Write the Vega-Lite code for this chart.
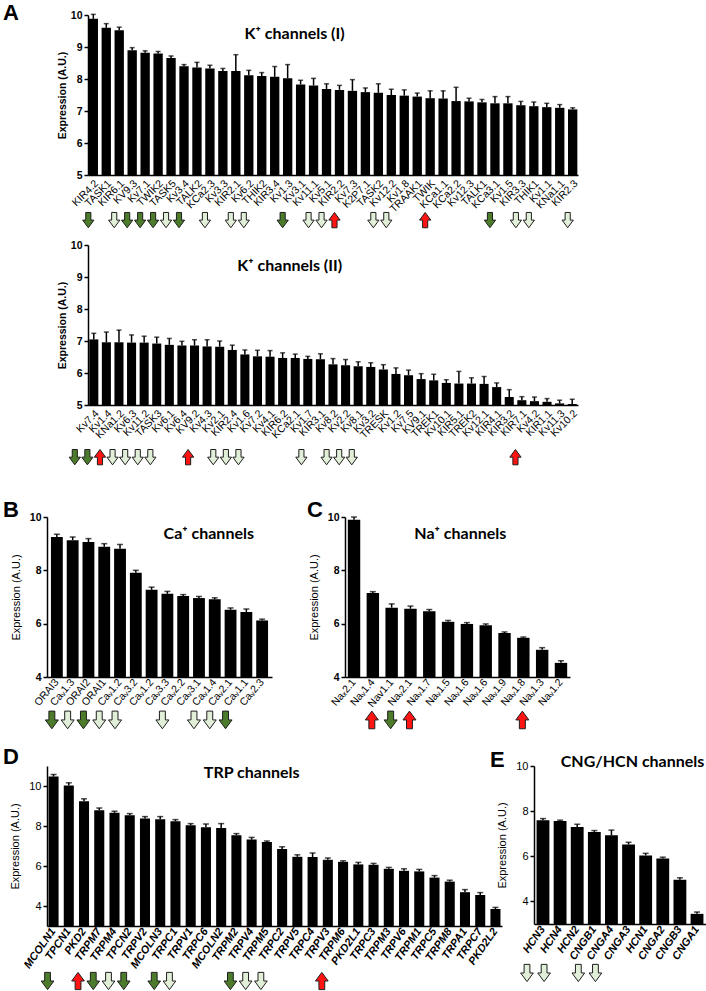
{
  "$schema": "https://vega.github.io/schema/vega-lite/v6.json",
  "padding": {"left": 3, "top": 2, "right": 0, "bottom": 0},
  "background": "white",
  "config": {
    "view": {"stroke": null},
    "font": "Liberation Sans",
    "axis": {"domainColor": "black", "tickColor": "black", "labelColor": "black", "titleColor": "black", "grid": false, "labelFont": "Liberation Sans", "titleFont": "Liberation Sans", "labelOverlap": false}
  },
  "datasets": {
    "A1": [
      {"n": "KIR4.2", "v": 9.88, "hi": 10.02, "arr": "G"},
      {"n": "TASK1", "v": 9.6, "hi": 9.73},
      {"n": "KIR6.1", "v": 9.52, "hi": 9.62, "arr": "L"},
      {"n": "KV9.3", "v": 8.9, "hi": 8.98, "arr": "G"},
      {"n": "Kv7.1", "v": 8.82, "hi": 8.88, "arr": "G"},
      {"n": "TWIK2", "v": 8.8, "hi": 8.86, "arr": "G"},
      {"n": "TASK5", "v": 8.66, "hi": 8.72, "arr": "L"},
      {"n": "Kv3.4", "v": 8.4, "hi": 8.45, "arr": "G"},
      {"n": "TALK2", "v": 8.36, "hi": 8.52},
      {"n": "KCa2.3", "v": 8.33, "hi": 8.43, "arr": "L"},
      {"n": "Kv3.3", "v": 8.25, "hi": 8.33},
      {"n": "KIR2.1", "v": 8.25, "hi": 8.76, "arr": "L"},
      {"n": "Kv6.2", "v": 8.12, "hi": 8.27, "arr": "L"},
      {"n": "THIK2", "v": 8.09, "hi": 8.2},
      {"n": "KIR3.4", "v": 8.07, "hi": 8.39},
      {"n": "Kv1.3", "v": 8.02, "hi": 8.45, "arr": "G"},
      {"n": "Kv3.1", "v": 7.83, "hi": 7.96},
      {"n": "Kv11.1", "v": 7.8, "hi": 8.02, "arr": "L"},
      {"n": "Kv5.1", "v": 7.69, "hi": 7.85, "arr": "L"},
      {"n": "KIR2.2", "v": 7.66, "hi": 7.8, "arr": "R"},
      {"n": "Kv7.3", "v": 7.63, "hi": 7.98},
      {"n": "K2P7.1", "v": 7.59, "hi": 7.72},
      {"n": "TASK2", "v": 7.57, "hi": 7.85, "arr": "L"},
      {"n": "Kv12.2", "v": 7.5, "hi": 7.68, "arr": "L"},
      {"n": "Kv1.8", "v": 7.48, "hi": 7.66},
      {"n": "TRAAK1", "v": 7.45, "hi": 7.56},
      {"n": "TWIK", "v": 7.4, "hi": 7.63, "arr": "R"},
      {"n": "KCa1.1", "v": 7.39, "hi": 7.63},
      {"n": "KCa2.2", "v": 7.31, "hi": 7.74},
      {"n": "Kv12.3", "v": 7.3, "hi": 7.4},
      {"n": "TALK1", "v": 7.27, "hi": 7.36},
      {"n": "KCa3.1", "v": 7.24, "hi": 7.45, "arr": "G"},
      {"n": "Kv1.5", "v": 7.24, "hi": 7.45},
      {"n": "KIR3.3", "v": 7.18, "hi": 7.3, "arr": "L"},
      {"n": "THIK1", "v": 7.15, "hi": 7.28, "arr": "L"},
      {"n": "Kv1.1", "v": 7.12, "hi": 7.24},
      {"n": "KNa1.1", "v": 7.1, "hi": 7.2},
      {"n": "KIR2.3", "v": 7.05, "hi": 7.1, "arr": "L"}
    ],
    "A2": [
      {"n": "Kv7.4", "v": 7.05, "hi": 7.24, "arr": "G"},
      {"n": "Kv1.4", "v": 6.96, "hi": 7.28, "arr": "G"},
      {"n": "KNa1.2", "v": 6.96, "hi": 7.34, "arr": "R"},
      {"n": "Kv6.3", "v": 6.95, "hi": 7.19, "arr": "L"},
      {"n": "Kv11.2", "v": 6.95, "hi": 7.15, "arr": "L"},
      {"n": "TASK3", "v": 6.92, "hi": 7.12, "arr": "L"},
      {"n": "Kv6.1", "v": 6.88, "hi": 7.08, "arr": "L"},
      {"n": "Kv6.4", "v": 6.86, "hi": 6.99},
      {"n": "KV9.2", "v": 6.86, "hi": 7.04},
      {"n": "Kv4.3", "v": 6.83, "hi": 7.04, "arr": "R"},
      {"n": "Kv2.1", "v": 6.82, "hi": 7.0},
      {"n": "KIR2.4", "v": 6.72, "hi": 6.87, "arr": "L"},
      {"n": "Kv1.6", "v": 6.58, "hi": 6.72, "arr": "L"},
      {"n": "Kv7.2", "v": 6.52, "hi": 6.71, "arr": "L"},
      {"n": "Kv4.1", "v": 6.51, "hi": 6.7},
      {"n": "KIR6.2", "v": 6.47, "hi": 6.63},
      {"n": "KCa2.1", "v": 6.47, "hi": 6.59},
      {"n": "Kv1.7", "v": 6.44, "hi": 6.52},
      {"n": "KIR3.1", "v": 6.43, "hi": 6.6, "arr": "L"},
      {"n": "Kv8.2", "v": 6.27, "hi": 6.45},
      {"n": "Kv2.2", "v": 6.24, "hi": 6.42, "arr": "L"},
      {"n": "Kv8.1", "v": 6.21, "hi": 6.35, "arr": "L"},
      {"n": "Kv3.2", "v": 6.19, "hi": 6.32, "arr": "L"},
      {"n": "TRESK", "v": 6.11, "hi": 6.26},
      {"n": "Kv1.2", "v": 5.97, "hi": 6.16},
      {"n": "Kv7.5", "v": 5.93, "hi": 6.09},
      {"n": "KV9.1", "v": 5.81, "hi": 5.98},
      {"n": "TREK1", "v": 5.77, "hi": 5.96},
      {"n": "Kv10.1", "v": 5.69, "hi": 5.79},
      {"n": "KIR5.1", "v": 5.67, "hi": 6.05},
      {"n": "TREK2", "v": 5.67, "hi": 5.85},
      {"n": "Kv12.1", "v": 5.66, "hi": 5.89},
      {"n": "KIR4.1", "v": 5.56, "hi": 5.69},
      {"n": "KIR3.2", "v": 5.25, "hi": 5.48},
      {"n": "KIR7.1", "v": 5.15, "hi": 5.26},
      {"n": "Kv4.2", "v": 5.12, "hi": 5.25, "arr": "R"},
      {"n": "KIR1.1", "v": 5.1, "hi": 5.2},
      {"n": "Kv11.3", "v": 5.05, "hi": 5.15},
      {"n": "Kv10.2", "v": 5.03, "hi": 5.18}
    ],
    "B": [
      {"n": "ORAI3", "v": 9.25, "hi": 9.35, "arr": "G"},
      {"n": "Caᵥ1.3", "v": 9.13, "hi": 9.25, "arr": "L"},
      {"n": "ORAI2", "v": 9.06, "hi": 9.19, "arr": "G"},
      {"n": "ORAI1", "v": 8.88, "hi": 9.0, "arr": "L"},
      {"n": "Caᵥ1.2", "v": 8.81, "hi": 8.97, "arr": "L"},
      {"n": "Caᵥ3.2", "v": 7.91, "hi": 8.0},
      {"n": "Caᵥ1.2\u200b", "v": 7.27, "hi": 7.37},
      {"n": "Caᵥ3.3", "v": 7.12, "hi": 7.21, "arr": "L"},
      {"n": "Caᵥ2.2", "v": 7.04, "hi": 7.09},
      {"n": "Caᵥ3.1", "v": 6.96, "hi": 7.02, "arr": "L"},
      {"n": "Caᵥ1.4", "v": 6.92, "hi": 6.97, "arr": "L"},
      {"n": "Caᵥ2.1", "v": 6.52, "hi": 6.59, "arr": "G"},
      {"n": "Caᵥ1.1", "v": 6.44, "hi": 6.55},
      {"n": "Caᵥ2.3", "v": 6.12, "hi": 6.17}
    ],
    "C": [
      {"n": "Naₓ2.1", "v": 9.9, "hi": 10.0},
      {"n": "Naᵥ1.4", "v": 7.15, "hi": 7.2, "arr": "R"},
      {"n": "Nav1.1", "v": 6.6, "hi": 6.74, "arr": "G"},
      {"n": "Naᵥ2.1", "v": 6.56, "hi": 6.66, "arr": "R"},
      {"n": "Naᵥ1.7", "v": 6.47, "hi": 6.53},
      {"n": "Naᵥ1.5", "v": 6.07, "hi": 6.12},
      {"n": "Naᵥ1.6", "v": 5.99, "hi": 6.04},
      {"n": "Naᵥ1.6\u200b", "v": 5.94, "hi": 5.99},
      {"n": "Naᵥ1.9", "v": 5.65, "hi": 5.69},
      {"n": "Naᵥ1.8", "v": 5.47, "hi": 5.5, "arr": "R"},
      {"n": "Naᵥ1.3", "v": 5.02, "hi": 5.1},
      {"n": "Naᵥ1.2", "v": 4.53, "hi": 4.61}
    ],
    "D": [
      {"n": "MCOLN1", "v": 10.47, "hi": 10.58, "arr": "G"},
      {"n": "TPCN1", "v": 10.03, "hi": 10.16},
      {"n": "PKD2", "v": 9.24, "hi": 9.36, "arr": "R"},
      {"n": "TRPM7", "v": 8.79, "hi": 8.9, "arr": "G"},
      {"n": "TRPM4", "v": 8.66, "hi": 8.74, "arr": "L"},
      {"n": "TPCN2", "v": 8.54, "hi": 8.62, "arr": "G"},
      {"n": "TRPV2", "v": 8.37, "hi": 8.47},
      {"n": "MCOLN3", "v": 8.34, "hi": 8.47, "arr": "G"},
      {"n": "TRPC1", "v": 8.24, "hi": 8.32, "arr": "L"},
      {"n": "TRPV1", "v": 8.04, "hi": 8.12},
      {"n": "TRPC6", "v": 7.94, "hi": 8.1},
      {"n": "MCOLN2", "v": 7.9, "hi": 8.12},
      {"n": "TRPM2", "v": 7.54, "hi": 7.62, "arr": "G"},
      {"n": "TRPV4", "v": 7.32, "hi": 7.43, "arr": "L"},
      {"n": "TRPM5", "v": 7.2, "hi": 7.25, "arr": "L"},
      {"n": "TRPC2", "v": 6.85, "hi": 6.96},
      {"n": "TRPV5", "v": 6.46, "hi": 6.56},
      {"n": "TRPC4", "v": 6.45, "hi": 6.65},
      {"n": "TRPV3", "v": 6.31, "hi": 6.4, "arr": "R"},
      {"n": "TRPM6", "v": 6.21, "hi": 6.26},
      {"n": "PKD2L1", "v": 6.08, "hi": 6.18},
      {"n": "TRPC3", "v": 6.06, "hi": 6.13},
      {"n": "TRPM3", "v": 5.86, "hi": 5.93},
      {"n": "TRPV6", "v": 5.76, "hi": 5.86},
      {"n": "TRPM1", "v": 5.73, "hi": 5.83},
      {"n": "TRPC5", "v": 5.42, "hi": 5.52},
      {"n": "TRPM8", "v": 5.22, "hi": 5.29},
      {"n": "TRPA1", "v": 4.69, "hi": 4.82},
      {"n": "TRPC7", "v": 4.55, "hi": 4.67},
      {"n": "PKD2L2", "v": 3.85, "hi": 3.93}
    ],
    "E": [
      {"n": "HCN3", "v": 7.6, "hi": 7.67, "arr": "L"},
      {"n": "HCN4", "v": 7.56, "hi": 7.6, "arr": "L"},
      {"n": "HCN2", "v": 7.3, "hi": 7.42},
      {"n": "CNGB1", "v": 7.08, "hi": 7.14, "arr": "L"},
      {"n": "CNGA4", "v": 6.93, "hi": 7.16, "arr": "L"},
      {"n": "CNGA3", "v": 6.52, "hi": 6.62},
      {"n": "HCN1", "v": 6.04, "hi": 6.13},
      {"n": "CNGA2", "v": 5.9, "hi": 5.96},
      {"n": "CNGB3", "v": 4.96, "hi": 5.05},
      {"n": "CNGA1", "v": 3.45, "hi": 3.53}
    ]
  },
  "vconcat": [
    {
      "vconcat": [
        {
          "hconcat": [
            {"width": 1, "height": 1, "data": {"values": [{}]}, "mark": {"type": "point", "opacity": 0}, "encoding": {}},
            {
              "vconcat": [
                {
                  "width": 490, "height": 160,
                  "data": {"name": "A1"},
                  "title": {"text": "A", "anchor": "start", "frame": "group", "fontSize": 22, "fontWeight": "bold", "font": "Liberation Sans", "dx": -85, "dy": 32, "offset": 0, "baseline": "alphabetic", "color": "black"},
                  "encoding": {"x": {"field": "n", "type": "nominal", "sort": null, "scale": {"paddingInner": 0.28, "paddingOuter": 0.05}, "axis": {"title": null, "labelAngle": -45, "ticks": false, "labelFontSize": 10.5, "labelPadding": 3, "domainWidth": 1.5}}},
                  "layer": [
                    {"mark": {"type": "bar", "color": "black"}, "encoding": {"y": {"field": "v", "type": "quantitative", "scale": {"domain": [5, 10], "zero": false, "nice": false}, "axis": {"title": "Expression (A.U.)", "values": [5, 6, 7, 8, 9, 10], "tickCount": 6, "labelOverlap": false, "labelFontWeight": "bold", "labelFontSize": 10.5, "titleFontSize": 10.5, "titleFontWeight": "bold", "tickSize": 4, "tickWidth": 1.5, "domainWidth": 1.5, "titlePadding": 3, "labelPadding": 2}}, "y2": {"datum": 5}}},
                    {"mark": {"type": "rule", "color": "black", "strokeWidth": 1.5}, "encoding": {"y": {"field": "v", "type": "quantitative"}, "y2": {"field": "hi"}}},
                    {"mark": {"type": "tick", "color": "black", "thickness": 1.5, "size": 5}, "encoding": {"y": {"field": "hi", "type": "quantitative"}}},
                    {"transform": [{"filter": "datum.arr"}], "mark": {"type": "point", "filled": true, "opacity": 1, "size": 150, "stroke": "#1e1e1e", "strokeWidth": 1, "xOffset": -5},
                     "encoding": {"y": {"datum": 3.59},
                       "shape": {"field": "arr", "type": "nominal", "scale": {"domain": ["G", "L", "R"], "range": ["M-0.42,-1.25L0.42,-1.25L0.42,0L0.92,0L0,1.25L-0.92,0L-0.42,0Z", "M-0.42,-1.25L0.42,-1.25L0.42,0L0.92,0L0,1.25L-0.92,0L-0.42,0Z", "M-0.42,1.25L0.42,1.25L0.42,0L0.92,0L0,-1.25L-0.92,0L-0.42,0Z"]}, "legend": null},
                       "fill": {"field": "arr", "type": "nominal", "scale": {"domain": ["G", "L", "R"], "range": ["#4c7b2b", "#e2efd8", "#ff1414"]}, "legend": null}}},
                    {"transform": [{"filter": "datum.n == 'Kv3.1'"}], "mark": {"type": "text", "font": "Lato", "fontSize": 16, "fontWeight": "bold", "dx": -6, "color": "black"}, "encoding": {"y": {"datum": 9.41}, "text": {"value": "K⁺ channels (I)"}}}
                  ]
                },
                {
                  "width": 490, "height": 160,
                  "data": {"name": "A2"},
                  "encoding": {"x": {"field": "n", "type": "nominal", "sort": null, "scale": {"paddingInner": 0.28, "paddingOuter": 0.1}, "axis": {"title": null, "labelAngle": -45, "ticks": false, "labelFontSize": 10.5, "labelPadding": 3, "domainWidth": 1.5}}},
                  "layer": [
                    {"mark": {"type": "bar", "color": "black"}, "encoding": {"y": {"field": "v", "type": "quantitative", "scale": {"domain": [5, 10], "zero": false, "nice": false}, "axis": {"title": "Expression (A.U.)", "values": [5, 6, 7, 8, 9, 10], "tickCount": 6, "labelOverlap": false, "labelFontWeight": "bold", "labelFontSize": 10.5, "titleFontSize": 10.5, "titleFontWeight": "bold", "tickSize": 4, "tickWidth": 1.5, "domainWidth": 1.5, "titlePadding": 3, "labelPadding": 2}}, "y2": {"datum": 5}}},
                    {"mark": {"type": "rule", "color": "black", "strokeWidth": 1.5}, "encoding": {"y": {"field": "v", "type": "quantitative"}, "y2": {"field": "hi"}}},
                    {"mark": {"type": "tick", "color": "black", "thickness": 1.5, "size": 5}, "encoding": {"y": {"field": "hi", "type": "quantitative"}}},
                    {"transform": [{"filter": "datum.arr"}], "mark": {"type": "point", "filled": true, "opacity": 1, "size": 150, "stroke": "#1e1e1e", "strokeWidth": 1, "xOffset": -19},
                     "encoding": {"y": {"datum": 3.37},
                       "shape": {"field": "arr", "type": "nominal", "scale": {"domain": ["G", "L", "R"], "range": ["M-0.42,-1.25L0.42,-1.25L0.42,0L0.92,0L0,1.25L-0.92,0L-0.42,0Z", "M-0.42,-1.25L0.42,-1.25L0.42,0L0.92,0L0,1.25L-0.92,0L-0.42,0Z", "M-0.42,1.25L0.42,1.25L0.42,0L0.92,0L0,-1.25L-0.92,0L-0.42,0Z"]}, "legend": null},
                       "fill": {"field": "arr", "type": "nominal", "scale": {"domain": ["G", "L", "R"], "range": ["#4c7b2b", "#e2efd8", "#ff1414"]}, "legend": null}}},
                    {"transform": [{"filter": "datum.n == 'KCa2.1'"}], "mark": {"type": "text", "font": "Lato", "fontSize": 16, "fontWeight": "bold", "dx": -5.5, "color": "black"}, "encoding": {"y": {"datum": 9.34}, "text": {"value": "K⁺ channels (II)"}}}
                  ]
                }
              ],
              "spacing": 70, "bounds": "flush",
              "resolve": {"scale": {"x": "independent", "y": "independent"}, "axis": {"x": "independent", "y": "independent"}}
            }
          ],
          "spacing": 40, "bounds": "flush"
        },
        {
          "hconcat": [
            {
              "width": 225, "height": 160,
              "data": {"name": "B"},
              "title": {"text": "B", "anchor": "start", "frame": "group", "fontSize": 22, "fontWeight": "bold", "font": "Liberation Sans", "dx": -44, "dy": 27, "offset": 0, "baseline": "alphabetic", "color": "black"},
              "encoding": {"x": {"field": "n", "type": "nominal", "sort": null, "scale": {"paddingInner": 0.25, "paddingOuter": 0.25}, "axis": {"title": null, "labelAngle": -50, "ticks": false, "labelFontSize": 10.5, "labelPadding": 3, "domainWidth": 1.5}}},
              "layer": [
                {"mark": {"type": "bar", "color": "black"}, "encoding": {"y": {"field": "v", "type": "quantitative", "scale": {"domain": [4, 10], "zero": false, "nice": false}, "axis": {"title": "Expression (A.U.)", "values": [4, 6, 8, 10], "tickCount": 4, "labelOverlap": false, "labelFontWeight": "bold", "labelFontSize": 10.5, "titleFontSize": 11, "titleFontWeight": "normal", "tickSize": 4, "tickWidth": 1.5, "domainWidth": 1.5, "titlePadding": 8, "labelPadding": 2}}, "y2": {"datum": 4}}},
                {"mark": {"type": "rule", "color": "black", "strokeWidth": 1.5}, "encoding": {"y": {"field": "v", "type": "quantitative"}, "y2": {"field": "hi"}}},
                {"mark": {"type": "tick", "color": "black", "thickness": 1.5, "size": 6}, "encoding": {"y": {"field": "hi", "type": "quantitative"}}},
                {"transform": [{"filter": "datum.arr"}], "mark": {"type": "point", "filled": true, "opacity": 1, "size": 200, "stroke": "#1e1e1e", "strokeWidth": 1, "xOffset": -5},
                 "encoding": {"y": {"datum": 2.39},
                   "shape": {"field": "arr", "type": "nominal", "scale": {"domain": ["G", "L", "R"], "range": ["M-0.42,-1.25L0.42,-1.25L0.42,0L0.92,0L0,1.25L-0.92,0L-0.42,0Z", "M-0.42,-1.25L0.42,-1.25L0.42,0L0.92,0L0,1.25L-0.92,0L-0.42,0Z", "M-0.42,1.25L0.42,1.25L0.42,0L0.92,0L0,-1.25L-0.92,0L-0.42,0Z"]}, "legend": null},
                   "fill": {"field": "arr", "type": "nominal", "scale": {"domain": ["G", "L", "R"], "range": ["#4c7b2b", "#e2efd8", "#ff1414"]}, "legend": null}}},
                {"transform": [{"filter": "datum.n == 'Caᵥ1.4'"}], "mark": {"type": "text", "font": "Lato", "fontSize": 16, "fontWeight": "bold", "dx": -6, "color": "black"}, "encoding": {"y": {"datum": 9.36}, "text": {"value": "Ca⁺ channels"}}}
              ]
            },
            {
              "width": 225, "height": 160,
              "data": {"name": "C"},
              "title": {"text": "C", "anchor": "start", "frame": "group", "fontSize": 22, "fontWeight": "bold", "font": "Liberation Sans", "dx": -38, "dy": 27, "offset": 0, "baseline": "alphabetic", "color": "black"},
              "encoding": {"x": {"field": "n", "type": "nominal", "sort": null, "scale": {"paddingInner": 0.34, "paddingOuter": 0.15}, "axis": {"title": null, "labelAngle": -50, "ticks": false, "labelFontSize": 10.5, "labelPadding": 3, "domainWidth": 1.5}}},
              "layer": [
                {"mark": {"type": "bar", "color": "black"}, "encoding": {"y": {"field": "v", "type": "quantitative", "scale": {"domain": [4, 10], "zero": false, "nice": false}, "axis": {"title": "Expression (A.U.)", "values": [4, 6, 8, 10], "tickCount": 4, "labelOverlap": false, "labelFontWeight": "bold", "labelFontSize": 10.5, "titleFontSize": 11, "titleFontWeight": "normal", "tickSize": 4, "tickWidth": 1.5, "domainWidth": 1.5, "titlePadding": 8, "labelPadding": 2}}, "y2": {"datum": 4}}},
                {"mark": {"type": "rule", "color": "black", "strokeWidth": 1.5}, "encoding": {"y": {"field": "v", "type": "quantitative"}, "y2": {"field": "hi"}}},
                {"mark": {"type": "tick", "color": "black", "thickness": 1.5, "size": 6}, "encoding": {"y": {"field": "hi", "type": "quantitative"}}},
                {"transform": [{"filter": "datum.arr"}], "mark": {"type": "point", "filled": true, "opacity": 1, "size": 200, "stroke": "#1e1e1e", "strokeWidth": 1, "xOffset": -1},
                 "encoding": {"y": {"datum": 2.39},
                   "shape": {"field": "arr", "type": "nominal", "scale": {"domain": ["G", "L", "R"], "range": ["M-0.42,-1.25L0.42,-1.25L0.42,0L0.92,0L0,1.25L-0.92,0L-0.42,0Z", "M-0.42,-1.25L0.42,-1.25L0.42,0L0.92,0L0,1.25L-0.92,0L-0.42,0Z", "M-0.42,1.25L0.42,1.25L0.42,0L0.92,0L0,-1.25L-0.92,0L-0.42,0Z"]}, "legend": null},
                   "fill": {"field": "arr", "type": "nominal", "scale": {"domain": ["G", "L", "R"], "range": ["#4c7b2b", "#e2efd8", "#ff1414"]}, "legend": null}}},
                {"transform": [{"filter": "datum.n == 'Naᵥ1.6'"}], "mark": {"type": "text", "font": "Lato", "fontSize": 16, "fontWeight": "bold", "dx": -6.6, "color": "black"}, "encoding": {"y": {"datum": 9.36}, "text": {"value": "Na⁺ channels"}}}
              ]
            }
          ],
          "spacing": 73, "bounds": "flush",
          "resolve": {"scale": {"x": "independent", "y": "independent"}, "axis": {"x": "independent", "y": "independent"}}
        }
      ],
      "spacing": 32, "bounds": "full"
    },
    {
      "hconcat": [
        {
          "width": 455, "height": 160,
          "data": {"name": "D"},
          "title": {"text": "D", "anchor": "start", "frame": "group", "fontSize": 22, "fontWeight": "bold", "font": "Liberation Sans", "dx": -44, "dy": 21, "offset": 0, "baseline": "alphabetic", "color": "black"},
          "encoding": {"x": {"field": "n", "type": "nominal", "sort": null, "scale": {"paddingInner": 0.34, "paddingOuter": 0.1}, "axis": {"title": null, "labelAngle": -55, "ticks": false, "labelFontSize": 11, "labelFontStyle": "italic", "labelFontWeight": "bold", "labelPadding": 3, "domainWidth": 1.5}}},
          "layer": [
            {"mark": {"type": "bar", "color": "black"}, "encoding": {"y": {"field": "v", "type": "quantitative", "scale": {"domain": [3, 11], "zero": false, "nice": false}, "axis": {"title": "Expression (A.U.)", "values": [4, 6, 8, 10], "tickCount": 4, "labelOverlap": false, "labelFontSize": 11, "titleFontSize": 11, "titleFontWeight": "normal", "tickSize": 4, "tickWidth": 1.5, "domainWidth": 1.5, "titlePadding": 8, "labelPadding": 2}}, "y2": {"datum": 3}}},
            {"mark": {"type": "rule", "color": "black", "strokeWidth": 1.5}, "encoding": {"y": {"field": "v", "type": "quantitative"}, "y2": {"field": "hi"}}},
            {"mark": {"type": "tick", "color": "black", "thickness": 1.5, "size": 6}, "encoding": {"y": {"field": "hi", "type": "quantitative"}}},
            {"transform": [{"filter": "datum.arr"}], "mark": {"type": "point", "filled": true, "opacity": 1, "size": 190, "stroke": "#1e1e1e", "strokeWidth": 1, "xOffset": -6},
             "encoding": {"y": {"datum": 0.25},
               "shape": {"field": "arr", "type": "nominal", "scale": {"domain": ["G", "L", "R"], "range": ["M-0.42,-1.25L0.42,-1.25L0.42,0L0.92,0L0,1.25L-0.92,0L-0.42,0Z", "M-0.42,-1.25L0.42,-1.25L0.42,0L0.92,0L0,1.25L-0.92,0L-0.42,0Z", "M-0.42,1.25L0.42,1.25L0.42,0L0.92,0L0,-1.25L-0.92,0L-0.42,0Z"]}, "legend": null},
               "fill": {"field": "arr", "type": "nominal", "scale": {"domain": ["G", "L", "R"], "range": ["#4c7b2b", "#e2efd8", "#ff1414"]}, "legend": null}}},
            {"transform": [{"filter": "datum.n == 'TRPV4'"}], "mark": {"type": "text", "font": "Lato", "fontSize": 16, "fontWeight": "bold", "dx": 0, "color": "black"}, "encoding": {"y": {"datum": 10.65}, "text": {"value": "TRP channels"}}}
          ]
        },
        {
          "width": 172, "height": 158,
          "data": {"name": "E"},
          "title": {"text": "E", "anchor": "start", "frame": "group", "fontSize": 22, "fontWeight": "bold", "font": "Liberation Sans", "dx": -44, "dy": 35, "offset": 0, "baseline": "alphabetic", "color": "black"},
          "encoding": {"x": {"field": "n", "type": "nominal", "sort": null, "scale": {"paddingInner": 0.25, "paddingOuter": 0.15}, "axis": {"title": null, "labelAngle": -55, "ticks": false, "labelFontSize": 11, "labelFontStyle": "italic", "labelFontWeight": "bold", "labelPadding": 3, "domainWidth": 1.5}}},
          "layer": [
            {"mark": {"type": "bar", "color": "black"}, "encoding": {"y": {"field": "v", "type": "quantitative", "scale": {"domain": [3, 10], "zero": false, "nice": false}, "axis": {"title": "Expression (A.U.)", "values": [4, 6, 8, 10], "tickCount": 4, "labelOverlap": false, "labelFontSize": 11, "titleFontSize": 11, "titleFontWeight": "normal", "tickSize": 4, "tickWidth": 1.5, "domainWidth": 1.5, "titlePadding": 8, "labelPadding": 2}}, "y2": {"datum": 3}}},
            {"mark": {"type": "rule", "color": "black", "strokeWidth": 1.5}, "encoding": {"y": {"field": "v", "type": "quantitative"}, "y2": {"field": "hi"}}},
            {"mark": {"type": "tick", "color": "black", "thickness": 1.5, "size": 6}, "encoding": {"y": {"field": "hi", "type": "quantitative"}}},
            {"transform": [{"filter": "datum.arr"}], "mark": {"type": "point", "filled": true, "opacity": 1, "size": 190, "stroke": "#1e1e1e", "strokeWidth": 1, "xOffset": -16},
             "encoding": {"y": {"datum": 0.83},
               "shape": {"field": "arr", "type": "nominal", "scale": {"domain": ["G", "L", "R"], "range": ["M-0.42,-1.25L0.42,-1.25L0.42,0L0.92,0L0,1.25L-0.92,0L-0.42,0Z", "M-0.42,-1.25L0.42,-1.25L0.42,0L0.92,0L0,1.25L-0.92,0L-0.42,0Z", "M-0.42,1.25L0.42,1.25L0.42,0L0.92,0L0,-1.25L-0.92,0L-0.42,0Z"]}, "legend": null},
               "fill": {"field": "arr", "type": "nominal", "scale": {"domain": ["G", "L", "R"], "range": ["#4c7b2b", "#e2efd8", "#ff1414"]}, "legend": null}}},
            {"transform": [{"filter": "datum.n == 'CNGA3'"}], "mark": {"type": "text", "font": "Lato", "fontSize": 16, "fontWeight": "bold", "dx": 4, "color": "black"}, "encoding": {"y": {"datum": 10.18}, "text": {"value": "CNG/HCN channels"}}}
          ]
        }
      ],
      "spacing": 32, "bounds": "flush",
      "resolve": {"scale": {"x": "independent", "y": "independent"}, "axis": {"x": "independent", "y": "independent"}}
    }
  ],
  "spacing": 14, "bounds": "full",
  "resolve": {"scale": {"x": "independent", "y": "independent"}}
}
